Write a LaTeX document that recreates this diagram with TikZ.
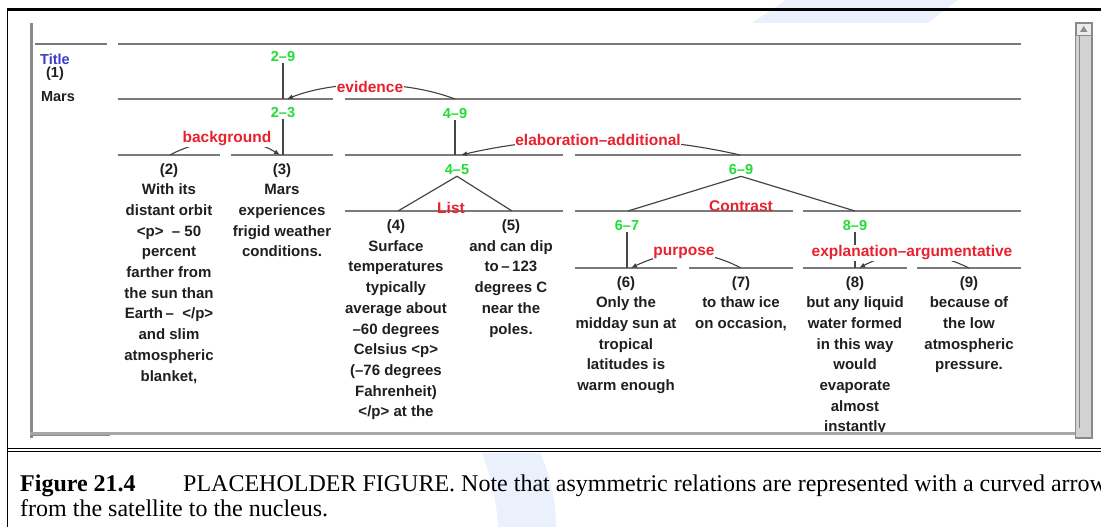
\documentclass[tikz,border=0pt]{standalone}
\usepackage{fontspec}
\setmainfont{Liberation Serif}
\setsansfont{Liberation Sans}
\usetikzlibrary{arrows.meta}
\definecolor{rowgray}{HTML}{7A7A7A}
\definecolor{spangreen}{HTML}{22DD33}
\definecolor{relred}{HTML}{E8212E}
\definecolor{titleblue}{HTML}{3B3BD0}
\definecolor{sbfill}{HTML}{D2D2D2}
\definecolor{winborder}{HTML}{8A8A8A}
\definecolor{wmblue}{HTML}{EAF0FC}
\begin{document}
\begin{tikzpicture}[x=1pt,y=-1pt,
  rowline/.style={draw=rowgray, line width=1.6pt},
  stem/.style={draw=black!72, line width=1.2pt},
  relarrow/.style={draw=black!75, line width=1.1pt, -{Latex[length=6pt,width=5pt]}},
  leaf/.style={font=\sffamily\bfseries\fontsize{15}{20.7}\selectfont, align=center, anchor=north, inner sep=0pt, text=black!88},
  spanlbl/.style={font=\sffamily\bfseries\fontsize{14.5}{16}\selectfont, text=spangreen, inner sep=1pt},
  rellbl/.style={font=\sffamily\bfseries\fontsize{15.5}{17}\selectfont, text=relred, inner sep=0.5pt},
  titlelbl/.style={font=\sffamily\bfseries\fontsize{14.5}{16}\selectfont, inner sep=0pt},
  caption/.style={font=\fontsize{24}{25}\selectfont, anchor=base west, inner sep=0pt}
]
\useasboundingbox (0,0) rectangle (1101,527);

% faint watermark pieces
\fill[wmblue] (752,23) -- (786,0) -- (958,0) -- (928,23) -- cycle;
\fill[wmblue] (482,453) .. controls (492,480) and (497,505) .. (498,527) -- (556,527) .. controls (556,500) and (550,475) .. (540,453) -- cycle;

% screenshot window (opaque)
\fill[white] (31,23) rectangle (1092,438);

% outer frame and caption rules
\draw[line width=2.6pt] (7,9.7) -- (1101,9.7);
\draw[line width=1.7pt] (7.5,9) -- (7.5,527);
\draw[line width=1.5pt] (7,448.3) -- (1101,448.3);
\draw[line width=1.5pt] (7,451.7) -- (1101,451.7);

% screenshot window borders
\draw[line width=3.2pt, draw=winborder] (31.3,23) -- (31.3,438);
\draw[line width=3pt, draw=winborder!75] (30,433.3) -- (1075,433.3);
\draw[line width=1pt, draw=winborder] (33,435) -- (110,435);
\draw[fill=sbfill, draw=winborder, line width=1.2pt] (1075.5,23) rectangle (1092,438);
\draw[draw=winborder, line width=0.8pt] (1079,36) -- (1079,428);
\draw[fill=black!8, draw=winborder, line width=0.8pt] (1076,23.5) rectangle (1091.5,35);
\fill[black!45] (1080,32) -- (1083.7,26) -- (1087.5,32) -- cycle;

% title column
\node[titlelbl, text=titleblue] (ttl) at (55,59) {Title};
\node[titlelbl, text=black!88] (one) at (55,74) {(1)};
\node[titlelbl, text=black!88] (mars) at (58,96.5) {Mars};

% row lines
\foreach \a/\b/\y in {35/107/44, 118/1021/44, 118/333/99, 345/1021/99,
  118/220/155, 231/333/155, 345/563/155, 575/1021/155,
  345/563/211, 575/793/211, 803/1021/211,
  575/677/268, 689/793/268, 803/907/268, 917/1021/268}
  \draw[rowline] (\a,\y) -- (\b,\y);

% attach points
\coordinate (p23) at (283,99);
\coordinate (p49) at (455,99);
\coordinate (q23) at (283,155);
\coordinate (q2) at (170,155);
\coordinate (q45) at (457,155);
\coordinate (q69) at (740,155);
\coordinate (r4) at (398,211);
\coordinate (r5) at (512,211);
\coordinate (r67) at (628,211);
\coordinate (r89) at (855,211);
\coordinate (t67) at (627,268);
\coordinate (t7) at (741,268);
\coordinate (t89) at (855,268);
\coordinate (t9) at (969,268);

% span labels
\node[spanlbl] (s29) at (283,57) {2\textendash9};
\node[spanlbl] (s23) at (283,113) {2\textendash3};
\node[spanlbl] (s49) at (455,113.5) {4\textendash9};
\node[spanlbl] (s45) at (457,170) {4\textendash5};
\node[spanlbl] (s69) at (741,170) {6\textendash9};
\node[spanlbl] (s67) at (627,226) {6\textendash7};
\node[spanlbl] (s89) at (855,226) {8\textendash9};

% stems
\draw[stem] (s29.south) -- (p23);
\draw[stem] (s23.south) -- (q23);
\draw[stem] (s49.south) -- (455,155);
\draw[stem] (s67.south) -- (t67);
\draw[stem] (s89.south) -- (t89);
% multinuclear
\draw[stem] (s45.south) -- (r4);
\draw[stem] (s45.south) -- (r5);
\draw[stem] (s69.south) -- (r67);
\draw[stem] (s69.south) -- (r89);

% curved relation arrows
\draw[relarrow] (p49) .. controls (405,80) and (335,80) .. ([xshift=4pt]p23);
\draw[relarrow] (q2) .. controls (205,136) and (250,136) .. ([xshift=-3pt]q23);
\draw[relarrow] (q69) .. controls (650,134) and (550,134) .. ([xshift=4pt]q45);
\draw[relarrow] (t7) .. controls (705,249) and (670,249) .. ([xshift=4pt]t67);
\draw[relarrow] (t9) .. controls (930,249) and (895,249) .. ([xshift=4pt]t89);

% relation labels
\node[rellbl, fill=white] (levid) at (370,87) {evidence};
\node[rellbl, fill=white] (lback) at (227,139) {background};
\node[rellbl, fill=white] (lelab) at (598,140) {elaboration\textendash additional};
\node[rellbl] (llist) at (451,208) {List};
\node[rellbl] (lcontr) at (741,206) {Contrast};
\node[rellbl, fill=white] (lpurp) at (684,253) {purpose};
\node[rellbl, fill=white] (lexpl) at (912,253) {explanation\textendash argumentative};

% leaf texts
\begin{scope}
\clip (33,23) rectangle (1074,431.5);
\node[leaf] (u2) at (169,163) {(2)\\With its\\distant orbit\\<p>\ \ \textendash\ 50\\percent\\farther from\\the sun than\\Earth\,\textendash\ \ </p>\\and slim\\atmospheric\\blanket,};
\node[leaf] (u3) at (282,163) {(3)\\Mars\\experiences\\frigid weather\\conditions.};
\node[leaf] (u4) at (396,219.5) {(4)\\Surface\\temperatures\\typically\\average about\\\textendash60 degrees\\Celsius <p>\\(\textendash76 degrees\\Fahrenheit)\\</p> at the};
\node[leaf] (u5) at (511,219.5) {(5)\\and can dip\\to\,\textendash\,123\\degrees C\\near the\\poles.};
\node[leaf] (u6) at (626,276) {(6)\\Only the\\midday sun at\\tropical\\latitudes is\\warm enough};
\node[leaf] (u7) at (741,276) {(7)\\to thaw ice\\on occasion,};
\node[leaf] (u8) at (855,276) {(8)\\but any liquid\\water formed\\in this way\\would\\evaporate\\almost\\instantly};
\node[leaf] (u9) at (969,276) {(9)\\because of\\the low\\atmospheric\\pressure.};
\end{scope}

% caption
\node[caption] (cap1a) at (20,491) {\textbf{Figure 21.4}};
\node[caption] (cap1b) at (183,491) {PLACEHOLDER FIGURE. Note that asymmetric relations are represented with a curved arrow};
\node[caption] (cap2) at (20,516) {from the satellite to the nucleus.};
\end{tikzpicture}
\end{document}
